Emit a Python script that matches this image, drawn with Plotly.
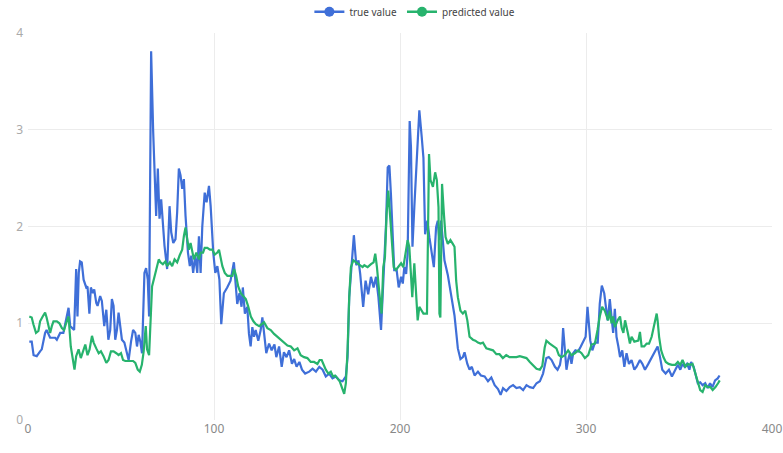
import plotly.graph_objects as go

true_x = [0.7, 2, 3, 4.7, 6.5, 7.4, 9.2, 10, 11.9, 14.6, 15.5, 17.3, 19, 20, 20.9, 21.8, 22.7, 24.8, 25.9, 26.6,
          27.3, 28, 28.9, 29.9, 31.3, 32, 33, 33.8, 34.9, 35.6, 36.7, 37.4, 38.8, 39.7, 41, 42.1, 43.2, 44.2, 45.1, 46,
          46.9, 47.8, 48.7, 49.6, 50.5, 51.8, 52.9, 54.1, 55.4, 56.5, 57.7, 58.6, 59.5, 60.4, 61.3, 62.6, 63.5, 64.4, 65.1, 66.2,
          67.3, 68.2, 68.9, 69.8, 70.7, 71.6, 72.5, 73.4, 74.8, 76.1, 77, 78.1, 79.3, 80.2, 81.1, 82, 82.9, 83.8, 84.7, 86,
          87, 87.8, 88.8, 89.9, 91, 91.9, 92.8, 93.7, 95, 96, 97.3, 98.2, 99.6, 100.7, 101.8, 102.9, 103.9, 105.3, 107.1, 108.9,
          110.7, 111.6, 112.5, 113.7, 114.8, 115.5, 116.6, 117.9, 118.8, 119.7, 120.6, 121.5, 122.4, 123.8, 125.1, 126, 126.9, 128.1, 129.6, 131,
          132.5, 133.5, 135, 136.4, 137.6, 139, 140.4, 141.9, 143.1, 144.4, 145.9, 147.3, 149, 151.2, 153, 154.8, 156.6, 158.4, 160.1, 161.9,
          163.7, 165.5, 167.3, 169.1, 170.9, 171.8, 172.7, 174.1, 175.2, 176.5, 177.7, 178.6, 180.2, 181.5, 182.9, 184.4, 185.8, 187.1, 188.4, 189.8,
          191.5, 192.5, 193.4, 194.3, 195.1, 196, 196.9, 198.2, 199.3, 200.6, 201.5, 202.3, 203.3, 204.1, 205.2, 205.9, 206.7, 207.7, 209, 210.4,
          211.7, 212.6, 213.5, 214.7, 215.8, 217.1, 218.2, 219.4, 220.3, 221.2, 222.1, 223, 223.9, 225.7, 227.5, 229.3, 231.1, 232.5, 233.8, 234.7,
          236.2, 237.4, 238.6, 240.1, 241.9, 243.5, 245.5, 247.3, 249.1, 250.9, 252.7, 254.1, 255.4, 257.2, 259, 260.8, 262.6, 264.4, 266.2, 268,
          269.8, 271.6, 273.4, 275.2, 276.9, 278.7, 280, 281.5, 283.3, 284.7, 286, 287, 287.7, 288.6, 289.5, 290.4, 291.3, 292.2, 293.1, 294.3,
          295.8, 297.2, 298.5, 299.8, 300.8, 301.5, 302.3, 303.4, 304.8, 306.3, 307.4, 308.5, 309.8, 310.5, 311.6, 312.4, 312.8, 313.7, 314.6, 315.5,
          316.4, 317.4, 318.3, 319.5, 320.6, 321.8, 323.1, 324.5, 326, 327.2, 329, 330.3, 331.7, 333.5, 335.3, 337.1, 338.5, 339.8, 341, 342.8,
          344.6, 346.2, 348, 349.4, 350.7, 351.9, 353, 354.3, 355.6, 356.5, 357.9, 359.2, 360.1, 361.4, 362.7, 364.1, 365.4, 366.7, 368, 369.4,
          370.8, 371.8]
true_y = [0.81, 0.81, 0.67, 0.66, 0.71, 0.73, 0.9, 0.93, 0.85, 0.85, 0.83, 0.9, 0.9, 0.99, 1.07, 1.16, 0.97, 0.93, 1.56, 1.07,
          1.52, 1.64, 1.63, 1.45, 1.37, 1.38, 1.1, 1.37, 1.31, 1.35, 1.21, 1.18, 1.28, 1.23, 0.97, 1.14, 0.83, 0.93, 1.25, 1.18,
          0.83, 0.93, 1.11, 0.97, 0.83, 0.8, 0.71, 0.62, 0.81, 0.93, 0.9, 0.76, 0.88, 0.81, 0.69, 1.52, 1.57, 1.45, 1.07, 3.81,
          2.98, 2.56, 2.11, 2.6, 2.08, 2.28, 2.04, 1.8, 1.56, 2.21, 1.94, 1.83, 1.87, 2.15, 2.6, 2.53, 2.39, 2.49, 2.11, 1.73,
          1.59, 1.7, 1.52, 1.7, 1.52, 1.9, 1.52, 2.0, 2.35, 2.25, 2.42, 2.21, 1.73, 1.52, 1.59, 1.45, 0.99, 1.31, 1.37, 1.44,
          1.63, 1.44, 1.2, 1.31, 1.17, 1.37, 1.1, 1.17, 0.89, 0.76, 0.96, 0.86, 0.93, 0.82, 0.93, 1.06, 0.89, 0.69, 0.79, 0.72,
          0.78, 0.65, 0.76, 0.55, 0.7, 0.65, 0.72, 0.58, 0.63, 0.55, 0.6, 0.52, 0.48, 0.5, 0.53, 0.5, 0.55, 0.52, 0.45, 0.48,
          0.43, 0.45, 0.41, 0.4, 0.45, 0.65, 1.27, 1.62, 1.91, 1.6, 1.65, 1.51, 1.17, 1.44, 1.3, 1.48, 1.37, 1.48, 1.27, 0.93,
          1.65, 2.03, 2.61, 2.63, 2.34, 1.89, 1.55, 1.55, 1.37, 1.48, 1.41, 1.58, 1.51, 1.72, 3.09, 2.82, 1.79, 2.2, 2.65, 3.2,
          2.92, 2.71, 1.92, 2.06, 1.89, 1.72, 1.58, 1.99, 2.06, 1.86, 2.06, 1.86, 1.65, 1.5, 1.3, 1.08, 0.74, 0.63, 0.65, 0.7,
          0.58, 0.52, 0.55, 0.46, 0.5, 0.46, 0.45, 0.4, 0.44, 0.36, 0.32, 0.26, 0.33, 0.3, 0.34, 0.36, 0.33, 0.34, 0.31, 0.36,
          0.34, 0.33, 0.38, 0.4, 0.48, 0.64, 0.65, 0.62, 0.55, 0.52, 0.57, 0.69, 0.95, 0.69, 0.52, 0.62, 0.69, 0.58, 0.69, 0.72,
          0.71, 0.76, 0.82, 0.86, 1.17, 1.03, 0.82, 0.72, 0.8, 0.8, 1.2, 1.39, 1.31, 1.2, 1.03, 1.17, 1.25, 1.07, 0.9, 1.15,
          0.86, 0.76, 0.65, 0.72, 0.55, 0.69, 0.58, 0.62, 0.52, 0.55, 0.62, 0.58, 0.52, 0.58, 0.65, 0.72, 0.76, 0.65, 0.52, 0.48,
          0.52, 0.45, 0.52, 0.57, 0.52, 0.58, 0.55, 0.58, 0.52, 0.6, 0.55, 0.45, 0.38, 0.39, 0.36, 0.38, 0.33, 0.38, 0.34, 0.41,
          0.43, 0.46]

pred_x = [0.7, 2, 2.9, 4.3, 5.6, 6.5, 7.9, 9.2, 10, 11, 11.9, 12.8, 13.7, 15.5, 16.9, 18.2, 19.4, 20.5, 21.8, 23,
          24.1, 25, 25.9, 27.2, 28.4, 29.5, 30.8, 32, 33.1, 34.4, 35.3, 36.7, 38, 39.2, 40.6, 42.1, 43.3, 44.6, 46, 47.5,
          48.7, 50, 51.1, 52.3, 53.6, 55, 56.5, 57.7, 59, 60.1, 61.2, 62.2, 63.3, 64, 65.1, 66.7, 67.6, 68.5, 69.4, 70.3,
          71.2, 72.5, 73.9, 74.8, 76.3, 77.5, 78.8, 80.2, 81.5, 82.9, 83.8, 84.7, 85.6, 86.5, 87.4, 88.3, 89.2, 90.5, 91.9, 92.8,
          94.1, 95, 96.4, 97.8, 99.1, 100.4, 101.8, 102.7, 103.6, 104.5, 105.8, 107.2, 108.6, 109.9, 110.8, 111.9, 113, 114.4, 115.8, 117.1,
          118.3, 119.8, 121.2, 122.5, 124.3, 125.1, 126.9, 128.7, 130.5, 132.3, 134.1, 135.9, 137.7, 139.5, 141.3, 143.1, 144.9, 146.6, 148.4, 150.2,
          152, 153.8, 155.6, 156.8, 157.9, 159.2, 160.1, 161.5, 162.8, 164, 165.1, 166.4, 167.6, 168.7, 170, 170.9, 171.8, 172.7, 173.6, 174.9,
          176.3, 178.1, 179.9, 180.8, 182.6, 184.4, 185.8, 186.7, 187.6, 188.9, 190.1, 191, 191.9, 192.8, 193.7, 194.6, 195.5, 196.6, 197.8, 199.1,
          200.6, 201.8, 202.9, 204.1, 205, 205.9, 206.6, 207.7, 208.8, 209.5, 210.4, 211.7, 212.6, 214.5, 215.6, 216.4, 217.7, 218.9, 219.8, 220.7,
          221.2, 221.7, 222.6, 223.6, 224.5, 225.7, 227.1, 228.4, 229.3, 230.2, 231.1, 232.5, 233.8, 235.1, 236.2, 237.4, 239.2, 240.5, 241.9, 243.3,
          244.6, 246.4, 248.2, 250, 251.8, 253.5, 255.3, 257.1, 258.9, 260.8, 262.6, 264.4, 266.2, 268, 269.8, 271.6, 273.4, 275.2, 276.5, 277.8,
          278.7, 280.5, 282.3, 284.1, 285.4, 286.8, 288.6, 290.4, 292.2, 294, 295.8, 297.6, 299.4, 301.2, 303, 304.8, 306.2, 307.4, 308.7, 310.1,
          311.9, 312.8, 313.7, 314.6, 315.5, 317, 318.3, 319.2, 320.1, 321, 322.5, 323.6, 324.5, 326, 328.1, 329, 329.9, 331.3, 332.6, 333.9,
          335.3, 336.8, 338, 338.5, 339.3, 340.4, 341.6, 342.9, 344.4, 346.2, 348, 349.4, 350.7, 351.9, 353.4, 354.8, 356.1, 357.3, 358.8, 360.1,
          361.4, 362.7, 364.1, 365.6, 366.9, 368.1, 369.6, 371, 371.9]
pred_y = [1.07, 1.06, 0.99, 0.9, 0.92, 1.02, 1.07, 1.11, 1.06, 0.97, 0.9, 0.97, 1.02, 1.02, 1.0, 0.95, 0.93, 1.0, 1.07, 0.76,
          0.62, 0.52, 0.66, 0.73, 0.64, 0.71, 0.78, 0.67, 0.73, 0.87, 0.8, 0.74, 0.69, 0.71, 0.66, 0.59, 0.62, 0.71, 0.71, 0.69,
          0.67, 0.69, 0.62, 0.61, 0.61, 0.61, 0.61, 0.59, 0.52, 0.5, 0.57, 0.71, 0.97, 0.73, 0.67, 1.38, 1.44, 1.52, 1.59, 1.66,
          1.63, 1.61, 1.64, 1.59, 1.63, 1.59, 1.66, 1.63, 1.7, 1.76, 1.9, 1.99, 1.87, 1.76, 1.83, 1.73, 1.66, 1.73, 1.66, 1.73,
          1.73, 1.78, 1.78, 1.76, 1.76, 1.71, 1.73, 1.76, 1.66, 1.59, 1.52, 1.49, 1.49, 1.49, 1.56, 1.49, 1.38, 1.31, 1.28, 1.25,
          1.18, 1.07, 1.02, 0.99, 0.97, 0.98, 1.01, 0.95, 0.93, 0.89, 0.86, 0.84, 0.81, 0.77, 0.76, 0.72, 0.74, 0.67, 0.65, 0.64,
          0.6, 0.6, 0.58, 0.62, 0.62, 0.55, 0.52, 0.48, 0.5, 0.45, 0.46, 0.43, 0.4, 0.34, 0.27, 0.38, 0.72, 1.27, 1.58, 1.65,
          1.63, 1.6, 1.58, 1.6, 1.58, 1.61, 1.63, 1.72, 1.58, 1.31, 1.1, 1.58, 1.68, 2.13, 2.37, 2.13, 1.86, 1.58, 1.55, 1.58,
          1.62, 1.58, 1.72, 1.86, 1.79, 1.55, 1.27, 1.62, 1.27, 1.03, 1.17, 1.13, 1.1, 1.1, 2.75, 2.48, 2.41, 2.56, 2.48, 2.2,
          1.1, 1.06, 2.44, 2.13, 1.89, 1.82, 1.86, 1.82, 1.79, 1.44, 1.27, 1.13, 1.1, 1.13, 1.03, 0.86, 0.83, 0.82, 0.8, 0.79,
          0.8, 0.74, 0.73, 0.72, 0.68, 0.68, 0.64, 0.67, 0.65, 0.65, 0.65, 0.66, 0.65, 0.64, 0.6, 0.57, 0.53, 0.52, 0.56, 0.75,
          0.82, 0.79, 0.76, 0.74, 0.67, 0.65, 0.67, 0.72, 0.67, 0.69, 0.72, 0.69, 0.64, 0.67, 0.78, 0.79, 0.93, 1.07, 1.17, 1.13,
          1.03, 1.13, 1.0, 1.07, 0.96, 1.03, 1.07, 0.95, 0.9, 1.03, 0.9, 0.79, 0.86, 0.81, 0.82, 0.91, 0.76, 0.76, 0.79, 0.79,
          0.86, 1.0, 1.1, 1.03, 0.86, 0.72, 0.65, 0.6, 0.58, 0.57, 0.57, 0.6, 0.57, 0.62, 0.55, 0.58, 0.57, 0.58, 0.48, 0.38,
          0.31, 0.29, 0.36, 0.34, 0.34, 0.31, 0.34, 0.38, 0.41]

series_names = ["true value", "predicted value"]
x_ticks = [0, 100, 200, 300, 400]
y_ticks = [0, 1, 2, 3, 4]

BLUE = "#3f6fd8"
GREEN = "#27b36d"
FONT = "Noto Sans, Open Sans, sans-serif"

fig = go.Figure()
fig.add_trace(go.Scatter(x=true_x, y=true_y, mode="lines", line=dict(color=BLUE, width=2.2),
                         showlegend=False, hoverinfo="x+y"))
fig.add_trace(go.Scatter(x=pred_x, y=pred_y, mode="lines", line=dict(color=GREEN, width=2.2),
                         showlegend=False, hoverinfo="x+y"))
for name, col in zip(series_names, [BLUE, GREEN]):
    fig.add_trace(go.Scatter(x=[None], y=[None], mode="lines+markers", name=name,
                             line=dict(color=col, width=2.5),
                             marker=dict(color=col, size=10, symbol="circle")))

fig.update_layout(
    width=783, height=453,
    margin=dict(l=28, r=11, t=33, b=33, autoexpand=False),
    paper_bgcolor="white", plot_bgcolor="white",
    font=dict(family=FONT, size=11, color="#555"),
    legend=dict(orientation="h", x=0.52, xanchor="center", y=1.055, yanchor="middle",
                font=dict(size=10, color="#444"),
                tracegroupgap=0, bgcolor="rgba(0,0,0,0)"),
    xaxis=dict(range=[0, 400], tickvals=x_ticks, showgrid=True, gridcolor="#ececec", gridwidth=1,
               zeroline=False, showline=False, ticks="", tickfont=dict(size=12, color="#888")),
    yaxis=dict(range=[0, 4], tickvals=y_ticks, showgrid=True, gridcolor="#ececec", gridwidth=1,
               zeroline=False, showline=False, ticks="", tickfont=dict(size=12, color="#aaa"),
               ticklabelstandoff=4),
    showlegend=True,
)

fig.write_html("out.html", config={"displayModeBar": False},
               post_script="document.body.style.margin='0px';document.body.style.overflow='hidden';")
